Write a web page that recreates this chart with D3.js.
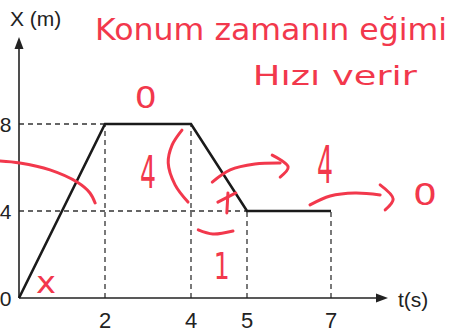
<!DOCTYPE html>
<html>
<head>
<meta charset="utf-8">
<script src="https://cdn.jsdelivr.net/npm/d3@7"></script>
<style>
  body { margin: 0; background: #fff; }
  svg { display: block; }
</style>
</head>
<body>
<div id="chart"></div>
<script>
// Position-time graph data
const times = [0, 2, 4, 5, 7];
const positions = [0, 8, 8, 4, 4];
const xTicks = [2, 4, 5, 7];
const yTicks = [0, 4, 8];

// Handwritten notes (data units: t, x)
const noteTexts = ["Konum zamanın eğimi", "Hızı verir"];
const noteMarks = ["0", "4", "4", "0", "1", "x"];
const noteMarkPos = [[2.95, 9.24], [3.0, 5.79], [6.86, 6.16], [9.24, 4.78], [4.55, 1.52], [0.63, 0.74]];
const strokes = [
  [[-0.44, 6.30], [0.02, 6.21], [0.72, 5.89], [1.35, 5.33], [1.65, 4.83], [1.77, 4.37]],
  [[3.79, 7.72], [3.56, 7.03], [3.47, 6.21], [3.63, 5.20], [3.93, 4.41]],
  [[4.38, 5.33], [4.70, 5.89], [5.19, 6.16], [5.79, 6.21]],
  [[5.60, 6.57], [5.98, 6.02], [5.79, 5.56]],
  [[6.50, 4.28], [6.98, 4.69], [7.57, 4.83], [8.17, 4.74]],
  [[8.17, 5.20], [8.48, 4.55], [8.29, 4.05]],
  [[4.13, 3.13], [4.39, 2.94], [4.75, 3.08]],
  [[4.48, 4.41], [4.80, 4.83]],
  [[4.66, 4.83], [4.64, 3.91]]
];

const width = 450, height = 336;
const red = "#f2384c";

const svg = d3.select("#chart").append("svg")
  .attr("width", width)
  .attr("height", height);

// the textbook figure spaces 4-5 s a little wider than the rest
const x = d3.scaleLinear().domain([0, 4, 5, 7]).range([19, 191, 247, 331]);
const y = d3.scaleLinear().domain([0, 8]).range([298, 124]);

const points = times.map((t, i) => ({ t: t, v: positions[i] }));

// dashed guide lines
const guides = svg.append("g")
  .attr("stroke", "#333")
  .attr("stroke-width", 1.3)
  .attr("stroke-dasharray", "5,4");

points.slice(1).forEach(p => {
  guides.append("line")
    .attr("x1", x(p.t)).attr("x2", x(p.t))
    .attr("y1", y(0)).attr("y2", y(p.v));
});
Array.from(new Set(positions.filter(v => v > 0))).forEach(v => {
  const tEnd = d3.min(points.filter(p => p.v === v), p => p.t);
  guides.append("line")
    .attr("x1", x(0)).attr("x2", x(tEnd))
    .attr("y1", y(v)).attr("y2", y(v));
});

// axes
svg.append("line")
  .attr("x1", x(0)).attr("x2", x(0))
  .attr("y1", y(0)).attr("y2", 46)
  .attr("stroke", "#222").attr("stroke-width", 1.6);
svg.append("path")
  .attr("d", `M${x(0)},37 L${x(0) - 4.5},49 L${x(0) + 4.5},49 Z`)
  .attr("fill", "#222");
svg.append("line")
  .attr("x1", x(0)).attr("x2", 379)
  .attr("y1", y(0)).attr("y2", y(0))
  .attr("stroke", "#222").attr("stroke-width", 1.6);
svg.append("path")
  .attr("d", `M388,${y(0)} L376,${y(0) - 4.5} L376,${y(0) + 4.5} Z`)
  .attr("fill", "#222");

// tick labels
svg.selectAll(".xt")
  .data(xTicks)
  .join("text")
  .attr("class", "xt")
  .attr("x", d => x(d))
  .attr("y", 328)
  .attr("text-anchor", "middle")
  .attr("font-family", "Liberation Sans, Arial, sans-serif")
  .attr("font-size", 22)
  .attr("fill", "#222")
  .text(d => d);

svg.selectAll(".yt")
  .data(yTicks)
  .join("text")
  .attr("class", "yt")
  .attr("x", 11.5)
  .attr("y", d => y(d) + 8)
  .attr("text-anchor", "end")
  .attr("font-family", "Liberation Sans, Arial, sans-serif")
  .attr("font-size", 21)
  .attr("fill", "#222")
  .text(d => d);

svg.append("text")
  .attr("x", 10).attr("y", 26)
  .attr("font-family", "Liberation Sans, Arial, sans-serif")
  .attr("font-size", 21)
  .attr("fill", "#222")
  .text("X (m)");

svg.append("text")
  .attr("x", 398).attr("y", 307)
  .attr("font-family", "Liberation Sans, Arial, sans-serif")
  .attr("font-size", 21)
  .attr("fill", "#222")
  .text("t(s)");

// position-time line
svg.append("path")
  .datum(points)
  .attr("fill", "none")
  .attr("stroke", "#1a1a1a")
  .attr("stroke-width", 2.6)
  .attr("stroke-linejoin", "miter")
  .attr("d", d3.line().x(d => x(d.t)).y(d => y(d.v)));

// red handwritten notes
const notes = svg.append("g").attr("fill", red);

notes.append("text")
  .attr("x", x(1.77)).attr("y", y(11.86))
  .attr("font-family", "DejaVu Sans, sans-serif")
  .attr("font-size", 30)
  .attr("textLength", 352)
  .attr("lengthAdjust", "spacingAndGlyphs")
  .text(noteTexts[0]);

notes.append("text")
  .attr("x", x(5.14)).attr("y", y(9.79))
  .attr("font-family", "DejaVu Sans, sans-serif")
  .attr("font-size", 26)
  .attr("textLength", 164)
  .attr("lengthAdjust", "spacingAndGlyphs")
  .text(noteTexts[1]);

const markSizes = [[30, 22], [44, 16], [52, 16], [30, 24], [38, 16], [30, 20]];
noteMarks.forEach((m, i) => {
  notes.append("text")
    .attr("x", x(noteMarkPos[i][0]) - markSizes[i][1] / 2)
    .attr("y", y(noteMarkPos[i][1]) + markSizes[i][0] * 0.36)
    .attr("font-family", "DejaVu Sans, sans-serif")
    .attr("font-size", markSizes[i][0])
    .attr("textLength", markSizes[i][1])
    .attr("lengthAdjust", "spacingAndGlyphs")
    .text(m);
});

const pen = d3.line()
  .x(d => x(d[0]))
  .y(d => y(d[1]))
  .curve(d3.curveCatmullRom);

svg.append("g")
  .selectAll("path")
  .data(strokes)
  .join("path")
  .attr("fill", "none")
  .attr("stroke", red)
  .attr("stroke-width", 3)
  .attr("stroke-linecap", "round")
  .attr("stroke-linejoin", "round")
  .attr("d", pen);
</script>
</body>
</html>
